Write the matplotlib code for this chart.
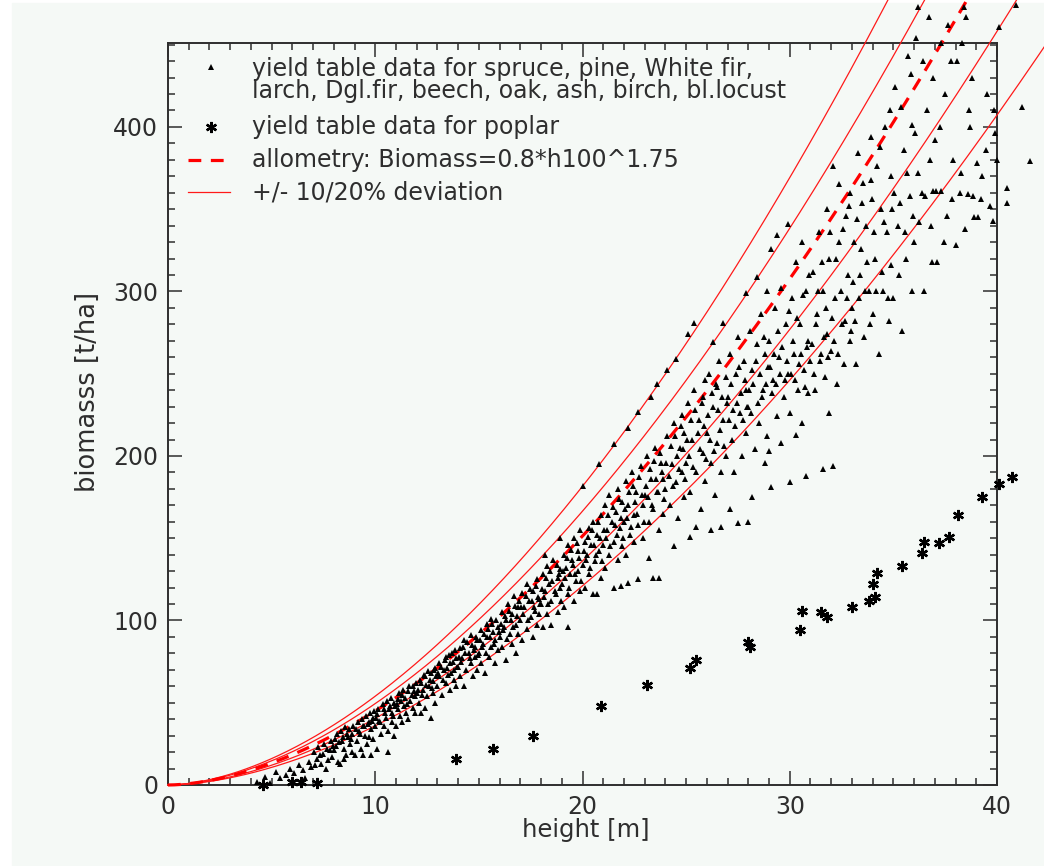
import numpy as np
import matplotlib
matplotlib.use("Agg")
import matplotlib.pyplot as plt
from matplotlib.lines import Line2D
from matplotlib.patches import Rectangle
from matplotlib.ticker import MultipleLocator

# ---------------- data ----------------
coef = 0.8
expo = 1.75
deviations = [0.8, 0.9, 1.1, 1.2]

pts_young = [
    (4.3, 2), (4.7, 5), (4.9, 1), (5.2, 8), (5.4, 4), (5.7, 6), (5.9, 10),
    (6.1, 7), (6.3, 12), (6.5, 9), (6.6, 4), (6.8, 14), (6.9, 11),
    (7.1, 12), (7.2, 16), (7.4, 13), (7.5, 19), (7.6, 10), (7.7, 15), (7.8, 21), (7.9, 17),
    (8.0, 21), (8.1, 24), (8.2, 14), (8.3, 13), (8.4, 27), (8.5, 16), (8.5, 22), (8.6, 18),
    (8.7, 29), (8.8, 25), (8.9, 20), (8.9, 31),
    (9.0, 18), (9.1, 27), (9.2, 33), (9.3, 22), (9.4, 18), (9.4, 36), (9.5, 30), (9.6, 25),
    (9.7, 29), (9.7, 38), (9.8, 18), (9.8, 34), (9.9, 41), (9.9, 28),
    (10.0, 36), (10.1, 22), (10.1, 43), (10.2, 39), (10.3, 31), (10.4, 46), (10.4, 36),
    (10.5, 41), (10.6, 20), (10.6, 33), (10.7, 48), (10.8, 44), (10.8, 38), (10.9, 30), (10.9, 50),
    (11.0, 36), (11.1, 46), (11.1, 52), (11.2, 42), (11.3, 38), (11.3, 55), (11.4, 48),
    (11.5, 44), (11.6, 57), (11.6, 40), (11.7, 51), (11.8, 47), (11.8, 60), (11.9, 54), (11.9, 44),
    (12.0, 56), (12.1, 50), (12.2, 44), (12.2, 62), (12.3, 58), (12.4, 47), (12.4, 66),
    (12.5, 54), (12.6, 60), (12.7, 41), (12.7, 68), (12.8, 56), (12.8, 63), (12.9, 50), (12.9, 71),
    (13.0, 60), (13.1, 66), (13.1, 74), (13.2, 55), (13.3, 70), (13.4, 62), (13.4, 78),
    (13.5, 67), (13.6, 58), (13.6, 74), (13.7, 80), (13.8, 64), (13.8, 70), (13.9, 60), (13.9, 77),
    (14.0, 72), (14.1, 66), (14.1, 83), (14.2, 77), (14.3, 60), (14.3, 88), (14.4, 70),
    (14.5, 80), (14.6, 74), (14.6, 91), (14.7, 66), (14.8, 84), (14.8, 78), (14.9, 70), (14.9, 88),
]

pts_young_dense = [
    (7.05, 20), (7.25, 23), (7.35, 18), (7.55, 25), (7.65, 22), (7.85, 27), (7.95, 24),
    (8.05, 28), (8.15, 31), (8.25, 26), (8.35, 33), (8.45, 29), (8.55, 35), (8.65, 31),
    (8.75, 34), (8.85, 28), (8.95, 36),
    (9.05, 34), (9.15, 38), (9.25, 31), (9.35, 40), (9.45, 36), (9.55, 42), (9.65, 37),
    (9.75, 44), (9.85, 39), (9.95, 45),
    (10.05, 41), (10.15, 46), (10.25, 38), (10.35, 49), (10.45, 44), (10.55, 51), (10.65, 46),
    (10.75, 53), (10.85, 42), (10.95, 48),
    (11.05, 49), (11.15, 56), (11.25, 51), (11.35, 58), (11.45, 53), (11.55, 49), (11.65, 60),
    (11.75, 55), (11.85, 57), (11.95, 62),
    (12.05, 58), (12.15, 64), (12.25, 55), (12.35, 67), (12.45, 61), (12.55, 69), (12.65, 64),
    (12.75, 59), (12.85, 70), (12.95, 66),
    (13.05, 68), (13.15, 72), (13.25, 64), (13.35, 76), (13.45, 71), (13.55, 79), (13.65, 68),
    (13.75, 75), (13.85, 82), (13.95, 72),
    (14.05, 78), (14.15, 75), (14.25, 84), (14.35, 80), (14.45, 87), (14.55, 77), (14.65, 85),
    (14.75, 82), (14.85, 90), (14.95, 79),
]

pts_mid = [
    (15.0, 80), (15.1, 74), (15.1, 94), (15.2, 86), (15.3, 68), (15.4, 90), (15.4, 98),
    (15.5, 78), (15.6, 84), (15.6, 101), (15.7, 93), (15.8, 74), (15.8, 88), (15.9, 96), (15.9, 82),
    (16.0, 90), (16.1, 105), (16.1, 84), (16.2, 96), (16.3, 76), (16.3, 100), (16.4, 110),
    (16.5, 92), (16.6, 86), (16.6, 104), (16.7, 115), (16.8, 97), (16.8, 80), (16.9, 108), (16.9, 92),
    (17.0, 100), (17.1, 117), (17.1, 88), (17.2, 108), (17.3, 95), (17.3, 122), (17.4, 112),
    (17.5, 102), (17.6, 90), (17.6, 118), (17.7, 106), (17.8, 125), (17.8, 97), (17.9, 113), (17.9, 104),
    (18.0, 110), (18.1, 128), (18.1, 96), (18.2, 118), (18.2, 140), (18.3, 104), (18.3, 133),
    (18.4, 122), (18.5, 112), (18.5, 97), (18.6, 137), (18.7, 116), (18.8, 126), (18.8, 105),
    (18.9, 131), (18.9, 120), (18.9, 150), (19.3, 96),
    (19.0, 122), (19.1, 140), (19.1, 108), (19.2, 132), (19.3, 116), (19.3, 146), (19.4, 128),
    (19.5, 137), (19.6, 112), (19.6, 150), (19.7, 124), (19.8, 142), (19.8, 130), (19.9, 118), (19.9, 155),
    (20.0, 134), (20.0, 182), (20.1, 148), (20.1, 120), (20.2, 140), (20.3, 156), (20.3, 128),
    (20.4, 146), (20.5, 160), (20.5, 116), (20.6, 136), (20.7, 152), (20.7, 116), (20.8, 195),
    (20.8, 142), (20.9, 164), (20.9, 126),
    (21.0, 146), (21.1, 170), (21.1, 132), (21.2, 155), (21.3, 140), (21.3, 176), (21.4, 160),
    (21.5, 207), (21.5, 120), (21.5, 148), (21.6, 166), (21.7, 137), (21.7, 180), (21.8, 156),
    (21.9, 172), (21.9, 145),
    (22.0, 160), (22.1, 185), (22.1, 140), (22.2, 217), (22.2, 123), (22.2, 170), (22.3, 152),
    (22.4, 190), (22.5, 164), (22.5, 148), (22.6, 178), (22.7, 227), (22.7, 125), (22.7, 158),
    (22.8, 194), (22.9, 170), (22.9, 150),
    (23.0, 176), (23.1, 200), (23.2, 138), (23.2, 160), (23.3, 236), (23.3, 186), (23.4, 126),
    (23.4, 168), (23.5, 205), (23.6, 244), (23.6, 178), (23.7, 126), (23.7, 155), (23.8, 196),
    (23.9, 186), (23.9, 165),
    (24.0, 180), (24.1, 252), (24.1, 212), (24.2, 170), (24.3, 195), (24.4, 145), (24.4, 220),
    (24.5, 259), (24.5, 184), (24.6, 162), (24.7, 205), (24.8, 225), (24.8, 190), (24.9, 175), (24.9, 214),
]

pts_mid_dense = [
    (15.05, 88), (15.15, 84), (15.25, 92), (15.35, 80), (15.45, 95), (15.55, 90), (15.65, 98),
    (15.75, 86), (15.85, 100), (15.95, 93),
    (16.05, 98), (16.15, 94), (16.25, 103), (16.35, 89), (16.45, 106), (16.55, 100), (16.65, 96),
    (16.75, 109), (16.85, 103), (16.95, 112),
    (17.05, 108), (17.15, 104), (17.25, 115), (17.35, 100), (17.45, 119), (17.55, 112),
    (17.65, 108), (17.75, 121), (17.85, 114), (17.95, 110),
    (18.05, 119), (18.15, 114), (18.25, 126), (18.35, 110), (18.45, 130), (18.55, 124),
    (18.65, 118), (18.75, 134), (18.85, 128), (18.95, 112),
    (19.05, 130), (19.15, 126), (19.25, 138), (19.35, 120), (19.45, 143), (19.55, 134),
    (19.65, 128), (19.75, 147), (19.85, 138), (19.95, 124),
    (20.05, 142), (20.15, 137), (20.25, 151), (20.35, 132), (20.45, 155), (20.55, 146),
    (20.65, 140), (20.75, 160), (20.85, 150), (20.95, 136),
    (21.05, 155), (21.15, 150), (21.25, 164), (21.35, 145), (21.45, 169), (21.55, 158),
    (21.65, 152), (21.75, 174), (21.85, 162), (21.95, 150), (21.85, 121),
    (22.05, 168), (22.15, 162), (22.25, 178), (22.35, 157), (22.45, 182), (22.55, 172),
    (22.65, 165), (22.75, 187), (22.85, 176), (22.95, 160),
    (23.05, 182), (23.15, 175), (23.25, 192), (23.35, 170), (23.45, 197), (23.55, 186),
    (23.65, 178), (23.75, 202), (23.85, 190), (23.95, 174),
    (24.05, 196), (24.15, 188), (24.25, 206), (24.35, 182), (24.45, 212), (24.55, 200),
    (24.65, 192), (24.75, 218), (24.85, 204), (24.95, 186),
]

pts_old = [
    (25.0, 196), (25.1, 274), (25.1, 232), (25.2, 151), (25.2, 178), (25.3, 210), (25.4, 281),
    (25.4, 240), (25.5, 157), (25.5, 190), (25.6, 222), (25.7, 168), (25.8, 236), (25.8, 202),
    (25.9, 185), (25.9, 246),
    (26.0, 214), (26.1, 250), (26.2, 155), (26.2, 196), (26.3, 269), (26.3, 230), (26.4, 176),
    (26.5, 242), (26.5, 208), (26.6, 258), (26.7, 157), (26.7, 190), (26.8, 281), (26.8, 222),
    (26.9, 248), (26.9, 200),
    (27.0, 236), (27.1, 168), (27.1, 262), (27.2, 210), (27.3, 190), (27.4, 250), (27.5, 159),
    (27.5, 272), (27.6, 226), (27.7, 200), (27.8, 258), (27.9, 299), (27.9, 240), (27.9, 214),
    (28.0, 160), (28.0, 230), (28.1, 276), (28.2, 175), (28.2, 252), (28.3, 204), (28.4, 309),
    (28.4, 268), (28.5, 220), (28.6, 286), (28.7, 240), (28.8, 196), (28.8, 262), (28.9, 212), (28.9, 300),
    (29.0, 203), (29.0, 270), (29.1, 181), (29.1, 326), (29.2, 246), (29.3, 290), (29.4, 334),
    (29.4, 224), (29.5, 260), (29.6, 208), (29.6, 302), (29.7, 236), (29.8, 280), (29.9, 341), (29.9, 250),
    (30.0, 184), (30.0, 226), (30.1, 296), (30.2, 262), (30.3, 213), (30.3, 318), (30.4, 240),
    (30.5, 280), (30.6, 220), (30.6, 330), (30.7, 252), (30.8, 188), (30.8, 300), (30.9, 270), (30.9, 238),
    (31.0, 258), (31.1, 312), (31.2, 240), (31.3, 286), (31.4, 336), (31.5, 262), (31.6, 192),
    (31.6, 300), (31.7, 248), (31.8, 350), (31.8, 274), (31.9, 226), (31.9, 320),
    (32.0, 264), (32.1, 194), (32.1, 376), (32.2, 296), (32.3, 244), (32.4, 365), (32.4, 330),
    (32.5, 280), (32.6, 256), (32.7, 346), (32.8, 310), (32.9, 270), (32.9, 360),
    (33.0, 290), (33.1, 330), (33.2, 256), (33.3, 384), (33.4, 310), (33.5, 354), (33.6, 272),
    (33.7, 340), (33.8, 300), (33.9, 394), (33.9, 368),
    (34.0, 286), (34.1, 320), (34.2, 376), (34.3, 262), (34.4, 350), (34.5, 300), (34.6, 400),
    (34.7, 336), (34.8, 282), (34.9, 370), (34.9, 316),
    (35.0, 296), (35.1, 424), (35.2, 340), (35.3, 354), (35.4, 276), (35.5, 386), (35.6, 320),
    (35.7, 443), (35.8, 358), (35.9, 300), (35.9, 401),
    (36.0, 330), (36.1, 454), (36.2, 372), (36.2, 473), (36.4, 360), (36.5, 300), (36.6, 410),
    (36.7, 467), (36.8, 340), (36.9, 361), (36.9, 430),
    (37.0, 392), (37.1, 318), (37.3, 361), (37.3, 451), (37.5, 420), (37.6, 346), (37.8, 440), (37.9, 380),
    (38.0, 328), (38.2, 360), (38.3, 451), (38.4, 473), (38.5, 467), (38.6, 359), (38.7, 400),
    (38.8, 430), (38.9, 345),
    (39.1, 345), (39.3, 370), (39.5, 420), (39.8, 343), (39.9, 396), (40.0, 380), (40.1, 461),
    (40.5, 363), (40.5, 354), (40.9, 474), (41.2, 412), (41.6, 379),
]

pts_old_dense = [
    (25.05, 210), (25.15, 200), (25.25, 222), (25.35, 193), (25.45, 228), (25.55, 214),
    (25.65, 204), (25.75, 232), (25.85, 218), (25.95, 198),
    (26.05, 225), (26.15, 210), (26.25, 238), (26.35, 203), (26.45, 244), (26.55, 228),
    (26.65, 216), (26.75, 236), (26.85, 206), (26.95, 232),
    (27.05, 222), (27.15, 244), (27.25, 228), (27.35, 218), (27.45, 232), (27.55, 254),
    (27.65, 238), (27.75, 222), (27.85, 246), (27.95, 230),
    (28.05, 240), (28.15, 226), (28.25, 244), (28.35, 258), (28.45, 232), (28.55, 250),
    (28.65, 236), (28.75, 272), (28.85, 244), (28.95, 254),
    (29.05, 254), (29.15, 238), (29.25, 262), (29.35, 244), (29.45, 276), (29.55, 250),
    (29.65, 266), (29.75, 246), (29.85, 258), (29.95, 288),
    (30.05, 250), (30.15, 270), (30.25, 246), (30.35, 284), (30.45, 256), (30.55, 262),
    (30.65, 298), (30.75, 242), (30.85, 266), (30.95, 310),
    (31.05, 268), (31.15, 250), (31.25, 280), (31.35, 300), (31.45, 258), (31.55, 318),
    (31.65, 272), (31.75, 290), (31.85, 260), (31.95, 336),
    (32.05, 284), (32.15, 270), (32.25, 320), (32.35, 262), (32.45, 300), (32.55, 338),
    (32.65, 282), (32.75, 296), (32.85, 352), (32.95, 276),
    (33.05, 306), (33.15, 282), (33.25, 344), (33.35, 296), (33.45, 326), (33.55, 366),
    (33.65, 300), (33.75, 318), (33.85, 280), (33.95, 356),
    (34.05, 336), (34.15, 300), (34.35, 388), (34.45, 312), (34.55, 342), (34.75, 296),
    (34.85, 410), (34.95, 350),
    (35.05, 360), (35.25, 310), (35.35, 412), (35.55, 336), (35.65, 372), (35.85, 432), (35.95, 346),
    (36.05, 396), (36.25, 342), (36.45, 440), (36.55, 358), (36.75, 380), (36.85, 318),
    (37.05, 361), (37.25, 400), (37.45, 330), (37.65, 462), (37.85, 356),
    (38.05, 440), (38.25, 372), (38.45, 338), (38.65, 410), (38.85, 358),
    (39.05, 378), (39.25, 356), (39.45, 386), (39.65, 352), (39.85, 410),
]

poplar_h = [4.6, 6.0, 6.4, 7.2, 13.9, 15.7, 17.6, 20.9, 23.1, 25.2, 25.5, 28.0, 28.1,
            30.5, 30.6, 31.5, 31.8, 33.0, 33.8, 34.1, 34.0, 34.2, 35.4, 36.4, 36.5,
            37.2, 37.7, 38.1, 39.3, 40.1, 40.7]
poplar_b = [0, 2, 2, 1, 16, 22, 30, 48, 61, 71, 76, 87, 84,
            94, 106, 105, 102, 108, 112, 114, 122, 129, 133, 141, 148,
            147, 151, 164, 175, 183, 187]

x_ticks = [0, 10, 20, 30, 40]
y_ticks = [0, 100, 200, 300, 400]

legend_texts = [
    "yield table data for spruce, pine, White fir,\nlarch, Dgl.fir, beech, oak, ash, birch, bl.locust",
    "yield table data for poplar",
    "allometry: Biomass=0.8*h100^1.75",
    "+/- 10/20% deviation",
]

# ---------------- figure ----------------
W, H = 1044, 866
BG = "#f5f9f6"
INK = "#2e2e2e"

fig = plt.figure(figsize=(W / 100, H / 100), dpi=100)
fig.patch.set_facecolor("white")
fig.add_artist(Rectangle((12 / W, 0), 1 - 12 / W, 1 - 3 / H,
                         transform=fig.transFigure, color=BG, zorder=-10))


def fx(px):
    return px / W


def fy(py):
    return 1 - py / H


ax = fig.add_axes([fx(168), fy(785), (997 - 168) / W, (785 - 43) / H])
ax.set_facecolor("none")
ax.set_xlim(0, 40)
ax.set_ylim(0, 451)

# allometry curves
hh = np.linspace(0, 46, 600)
base = coef * hh ** expo
for d in deviations:
    ax.plot(hh, base * d, color="#ff1a1a", lw=0.9, clip_on=False, zorder=3)
ax.plot(hh, base, color="#ff0000", lw=2.3, dashes=(4.0, 3.0), clip_on=False, zorder=3)

# data
all_pts = pts_young + pts_young_dense + pts_mid + pts_mid_dense + pts_old + pts_old_dense
th = [p[0] for p in all_pts]
tb = [p[1] for p in all_pts]
TRI_MS = 3.9
ax.plot(th, tb, ls="none", marker="^", ms=TRI_MS, mew=0, color="black",
        clip_on=False, zorder=4)
ax.plot(poplar_h, poplar_b, ls="none", marker=(6, 2, 0), ms=8, mew=1.7,
        color="black", clip_on=False, zorder=4)

# axes styling
ax.set_xticks(x_ticks)
ax.set_yticks(y_ticks)
ax.xaxis.set_minor_locator(MultipleLocator(1))
ax.yaxis.set_minor_locator(MultipleLocator(10))
ax.tick_params(which="both", direction="in", top=True, right=True,
               color=INK, width=1.1, labelcolor=INK, labelsize=17)
ax.tick_params(which="major", length=10, pad=7)
ax.tick_params(which="minor", length=5)
for s in ax.spines.values():
    s.set_linewidth(1.4)
    s.set_color(INK)

fig.text(fx(586), fy(830), "height [m]", ha="center", va="center",
         fontsize=17.5, color=INK)
fig.text(fx(88), fy(392), "biomasss [t/ha]", ha="center", va="center",
         rotation=90, fontsize=18.5, color=INK)

# legend (drawn manually, IDL style)
LFS = 17
fig.add_artist(Line2D([fx(211)], [fy(67)], ls="none", marker="^", ms=TRI_MS, mew=0,
                      color="black", transform=fig.transFigure))
fig.text(fx(252), fy(57), legend_texts[0], ha="left", va="top",
         fontsize=LFS, color=INK, linespacing=0.92)
fig.add_artist(Line2D([fx(211)], [fy(127)], ls="none", marker=(6, 2, 0), ms=8,
                      mew=1.7, color="black", transform=fig.transFigure))
fig.text(fx(252), fy(127), legend_texts[1], ha="left", va="center",
         fontsize=LFS, color=INK)
fig.add_artist(Line2D([fx(188), fx(230)], [fy(160), fy(160)], color="#ff0000",
                      lw=2.3, dashes=(4.0, 3.0), transform=fig.transFigure))
fig.text(fx(252), fy(160), legend_texts[2], ha="left", va="center",
         fontsize=LFS, color=INK)
fig.add_artist(Line2D([fx(188), fx(230)], [fy(192), fy(192)], color="#ff1a1a",
                      lw=0.9, transform=fig.transFigure))
fig.text(fx(252), fy(192), legend_texts[3], ha="left", va="center",
         fontsize=LFS, color=INK)

fig.savefig("out.png", dpi=100, facecolor=fig.get_facecolor())
